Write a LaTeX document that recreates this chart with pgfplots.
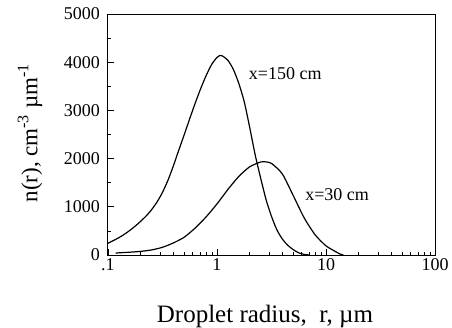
\documentclass[border=0pt]{standalone}
\usepackage{fontspec}
\setmainfont{Liberation Serif}
\usepackage{pgfplots}
\pgfplotsset{compat=1.18}
\pgfplotstableread{
r n
0.1 243
0.1122 300
0.1259 360
0.1413 430
0.1585 510
0.1778 600
0.1995 700
0.2239 810
0.2512 940
0.2818 1100
0.3162 1300
0.3548 1550
0.3981 1850
0.4467 2180
0.5012 2500
0.5623 2830
0.6310 3150
0.7079 3450
0.7943 3720
0.8913 3950
1.0 4100
1.0715 4140
1.122 4130
1.259 4040
1.413 3850
1.585 3560
1.778 3180
1.995 2650
2.239 2080
2.512 1600
2.818 1150
3.162 800
3.548 520
3.981 330
4.467 200
5.012 110
5.623 45
6.310 12
7.079 0
}\curveA
\pgfplotstableread{
r n
0.1175 40
0.1259 45
0.1585 58
0.1995 75
0.2512 105
0.3162 160
0.3981 250
0.5012 370
0.6310 560
0.7943 790
1.0 1060
1.259 1360
1.585 1630
1.995 1830
2.512 1930
2.692 1936
3.162 1900
3.981 1680
5.012 1230
6.310 770
7.943 420
10.0 190
12.59 55
13.49 20
14.45 0
}\curveB
\begin{document}
\begin{tikzpicture}
\begin{axis}[
  scale only axis, width=327bp, height=241bp,
  xmode=log, log basis x=10,
  xmin=0.1, xmax=100, ymin=0, ymax=5000,
  xtick={0.1,1,10,100}, xticklabels={.1,1,10,100},
  minor xtick={0.2,0.3,0.4,0.5,0.6,0.7,0.8,0.9,2,3,4,5,6,7,8,9,20,30,40,50,60,70,80,90},
  ytick={0,1000,2000,3000,4000,5000},
  minor ytick={500,1500,2500,3500,4500},
  tick pos=left, tick align=inside,
  major tick length=6bp, minor tick length=3.5bp,
  axis line style={line width=1bp},
  every tick/.style={line width=0.8bp, black},
  /pgf/number format/assume math mode=true,
  /pgf/number format/1000 sep={},
  ticklabel style={font=\fontsize{18bp}{20bp}\selectfont, inner sep=0pt},
  xticklabel style={yshift=-3bp},
  yticklabel style={xshift=-8bp},
  xlabel={Droplet radius,\ \ r, µm},
  ylabel={n(r), cm\textsuperscript{-3} µm\textsuperscript{-1}},
  x label style={at={(rel axis cs:0.48,-0.257)}, anchor=center, font=\fontsize{25bp}{28bp}\selectfont},
  y label style={at={(rel axis cs:-0.2385,0.506)}, anchor=center, rotate=0, font=\fontsize{23bp}{26bp}\selectfont},
  clip=false,
]
\coordinate (sw) at (rel axis cs:0,0);
\addplot[black, line width=1.2bp, smooth, tension=0.4] table[x=r,y=n] {\curveA};
\addplot[black, line width=1.2bp, smooth, tension=0.4] table[x=r,y=n] {\curveB};
\node[anchor=west, font=\fontsize{18bp}{20bp}\selectfont] at (axis cs:1.82,3770) {x=150 cm};
\node[anchor=west, font=\fontsize{18bp}{20bp}\selectfont] at (axis cs:6.0,1245) {x=30 cm};
\end{axis}
\pgfresetboundingbox
\path[use as bounding box] (sw) ++(-108bp,-73bp) rectangle ++(452bp,328bp);
\end{tikzpicture}
\end{document}
